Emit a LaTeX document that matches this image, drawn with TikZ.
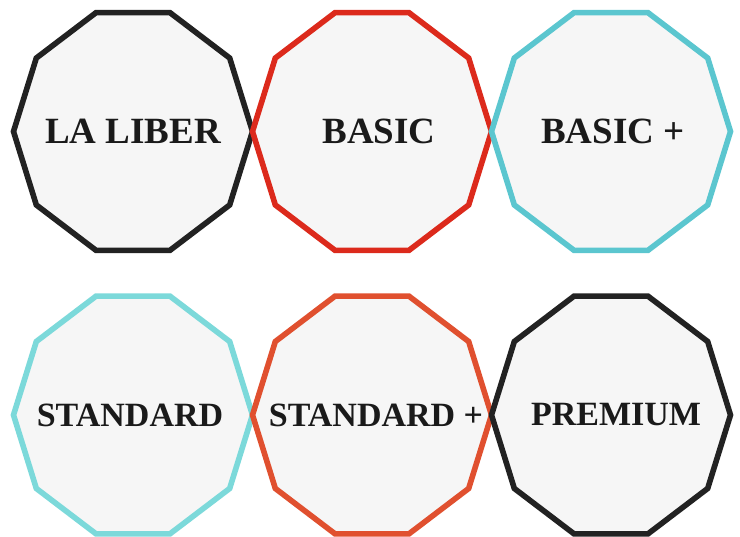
\documentclass[tikz,border=0pt]{standalone}
\usepackage{fontspec}
\setmainfont{Liberation Serif}

\definecolor{inkdark}{HTML}{222222}
\definecolor{inkred}{HTML}{DC2A1C}
\definecolor{inkteal}{HTML}{5BC6CF}
\definecolor{inkaqua}{HTML}{7CD9DA}
\definecolor{inkorange}{HTML}{E0502F}
\definecolor{tierfill}{HTML}{F6F6F6}
\definecolor{tiertext}{HTML}{1A1A1A}

\begin{document}
\begin{tikzpicture}[
  x=1pt, y=1pt,
  tier/.style={line width=5.6pt, fill=tierfill},
  tiername/.style={text=tiertext, inner sep=0pt, font=\bfseries\fontsize{#1}{#1}\selectfont}
]
\useasboundingbox (0,0) rectangle (740,-537);

% decagons, left to right and row by row
\foreach \name/\cx/\cy/\col/\dx/\fs/\txt in {
    laliber/133/-131.5/inkdark/0/37/LA LIBER,
    basic/372/-131.5/inkred/7/37/BASIC,
    basicplus/611/-131.5/inkteal/2/37/BASIC +,
    standard/133/-415/inkaqua/-3/34/STANDARD,
    standardplus/372/-415/inkorange/4/34/STANDARD +,
    premium/611/-415/inkdark/5/34/PREMIUM} {
  \begin{scope}[shift={(\cx,\cy)}]
    \draw[tier, draw=\col] (0:119.5 and 125)
      \foreach \a in {36,72,...,324} { -- (\a:119.5 and 125) } -- cycle;
    \node[tiername=\fs] (\name) at (\dx,0) {\txt};
  \end{scope}
}
\end{tikzpicture}
\end{document}
